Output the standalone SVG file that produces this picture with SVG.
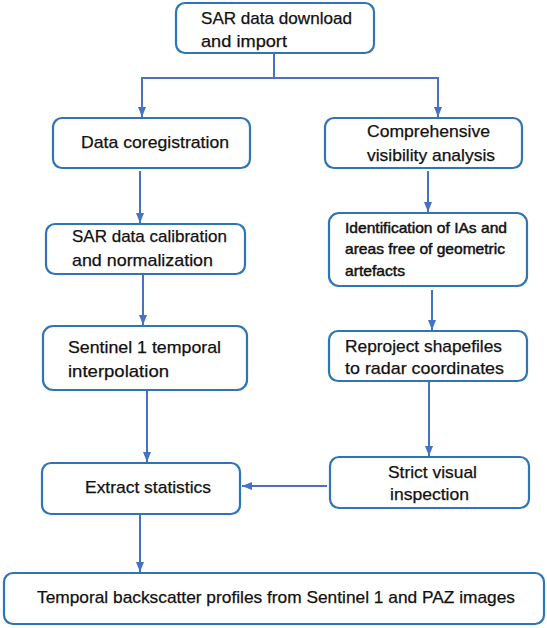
<svg xmlns="http://www.w3.org/2000/svg" width="547" height="628" viewBox="0 0 547 628">
<style>
.box{fill:#fff;stroke:#2E75B6;stroke-width:2.2}
.t{font-family:"Liberation Sans",Arial,sans-serif;font-size:17px;fill:#111;stroke:#111;stroke-width:0.25}
.s{font-size:14.5px;stroke-width:0.45}
.c{fill:none;stroke:#4472C4;stroke-width:2}
</style>
<defs>
<marker id="ah" markerUnits="userSpaceOnUse" markerWidth="10" markerHeight="10" viewBox="0 0 10 10" refX="10" refY="5" orient="auto">
<path d="M0,1 L10,5 L0,9 Z" fill="#4472C4"/>
</marker>
</defs>
<rect width="547" height="628" fill="#fff"/>
<g id="connectors">
<path class="c" d="M274,53 V78 H142 V117" marker-end="url(#ah)"/>
<path class="c" d="M274,78 H438 V117" marker-end="url(#ah)"/>
<path class="c" d="M140,171 V223" marker-end="url(#ah)"/>
<path class="c" d="M143,274 V325" marker-end="url(#ah)"/>
<path class="c" d="M147,390 V462" marker-end="url(#ah)"/>
<path class="c" d="M140,514 V572" marker-end="url(#ah)"/>
<path class="c" d="M428,171 V212" marker-end="url(#ah)"/>
<path class="c" d="M432,290 V330" marker-end="url(#ah)"/>
<path class="c" d="M429,381 V456" marker-end="url(#ah)"/>
<path class="c" d="M327,486 H242" marker-end="url(#ah)"/>
</g>
<g id="n1">
<rect class="box" x="176" y="3" width="198" height="50" rx="9"/>
<text class="t" x="201" y="24" textLength="151" lengthAdjust="spacingAndGlyphs">SAR data download</text>
<text class="t" x="201" y="47" textLength="86" lengthAdjust="spacingAndGlyphs">and import</text>
</g>
<g id="n2">
<rect class="box" x="53" y="118" width="197" height="50" rx="9"/>
<text class="t" x="81" y="148" textLength="148" lengthAdjust="spacingAndGlyphs">Data coregistration</text>
</g>
<g id="n3">
<rect class="box" x="325" y="118" width="197" height="50" rx="9"/>
<text class="t" x="367" y="137" textLength="123" lengthAdjust="spacingAndGlyphs">Comprehensive</text>
<text class="t" x="367" y="161" textLength="128" lengthAdjust="spacingAndGlyphs">visibility analysis</text>
</g>
<g id="n4">
<rect class="box" x="46" y="224" width="199" height="50" rx="9"/>
<text class="t" x="72" y="242" textLength="155" lengthAdjust="spacingAndGlyphs">SAR data calibration</text>
<text class="t" x="72" y="266" textLength="141" lengthAdjust="spacingAndGlyphs">and normalization</text>
</g>
<g id="n5">
<rect class="box" x="329" y="213" width="198" height="73" rx="10"/>
<text class="t s" x="345" y="233" textLength="162" lengthAdjust="spacingAndGlyphs">Identification of IAs and</text>
<text class="t s" x="345" y="254" textLength="160" lengthAdjust="spacingAndGlyphs">areas free of geometric</text>
<text class="t s" x="345" y="276" textLength="60" lengthAdjust="spacingAndGlyphs">artefacts</text>
</g>
<g id="n6">
<rect class="box" x="43" y="326" width="204" height="64" rx="10"/>
<text class="t" x="68" y="353" textLength="153" lengthAdjust="spacingAndGlyphs">Sentinel 1 temporal</text>
<text class="t" x="68" y="377" textLength="101" lengthAdjust="spacingAndGlyphs">interpolation</text>
</g>
<g id="n7">
<rect class="box" x="329" y="331" width="198" height="50" rx="9"/>
<text class="t" x="345" y="352" textLength="157" lengthAdjust="spacingAndGlyphs">Reproject shapefiles</text>
<text class="t" x="345" y="374" textLength="159" lengthAdjust="spacingAndGlyphs">to radar coordinates</text>
</g>
<g id="n8">
<rect class="box" x="42" y="463" width="198" height="51" rx="9"/>
<text class="t" x="85" y="493" textLength="126" lengthAdjust="spacingAndGlyphs">Extract statistics</text>
</g>
<g id="n9">
<rect class="box" x="330" y="457" width="199" height="51" rx="9"/>
<text class="t" x="388" y="478" textLength="89" lengthAdjust="spacingAndGlyphs">Strict visual</text>
<text class="t" x="390" y="500" textLength="79" lengthAdjust="spacingAndGlyphs">inspection</text>
</g>
<g id="n10">
<rect class="box" x="4" y="573" width="540" height="51" rx="9"/>
<text class="t" x="37" y="603" textLength="478" lengthAdjust="spacingAndGlyphs">Temporal backscatter profiles from Sentinel 1 and PAZ images</text>
</g>
</svg>
